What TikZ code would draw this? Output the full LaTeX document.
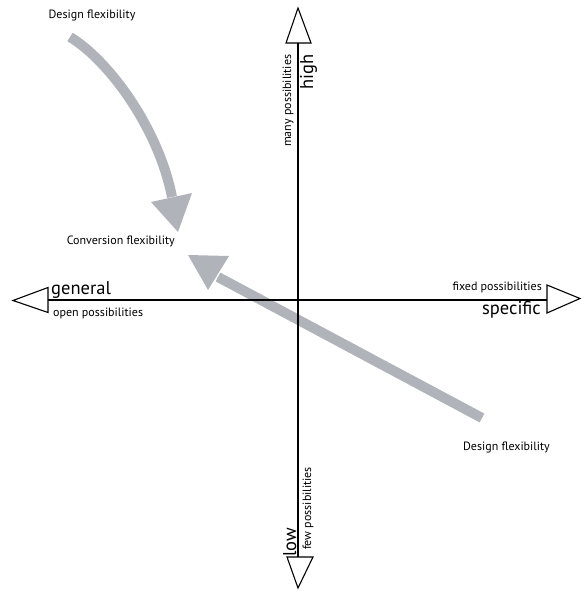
\documentclass[tikz,border=0pt]{standalone}
\usepackage{fontspec}
\setmainfont{PT Sans}
\usetikzlibrary{calc}
\definecolor{flowgray}{RGB}{176,180,186}
\begin{document}
\begin{tikzpicture}[x=1pt,y=-1pt,
  flow/.style={draw=flowgray, line width=10pt},
  flowhead/.style={fill=flowgray, draw=none},
  axis/.style={line width=1.8pt},
  axhead/.style={draw=black, fill=white, line width=1.1pt, line join=miter},
  small/.style={font=\fontsize{12}{14}\selectfont, inner sep=0pt},
  big/.style={font=\fontsize{18.5}{22}\selectfont, inner sep=0pt}]
\useasboundingbox (0,0) rectangle (583,591);

% axis end points
\coordinate (o) at (298,300);
\coordinate (w) at (48,300);
\coordinate (e) at (547,300);
\coordinate (n) at (298,43);
\coordinate (s) at (298,557);

% flow arrows (behind the axes)
\coordinate (d1) at (70,37);
\coordinate (h1) at (172,197);
\draw[flow] (d1) .. controls (108.6,60.2) and (158.6,128.3) .. (h1);
\fill[flowhead] (178,232) -- (151,202) -- (192,193) -- cycle;

\coordinate (d2) at (482,418);
\coordinate (h2) at (218,277);
\draw[flow] (d2) -- (h2);
\fill[flowhead] (208,290) -- (188,255) -- (229,256) -- cycle;

% axes
\draw[axis] (w) -- (e);
\draw[axis] (n) -- (s);

% open arrowheads at the axis ends
\draw[axhead] ($(w)+(0,-12.5)$) -- (13,300.5) -- ($(w)+(0,12.5)$) -- cycle;
\draw[axhead] ($(e)+(0,-15)$) -- (580,298.5) -- ($(e)+(0,13)$) -- cycle;
\draw[axhead] ($(n)+(-12,0)$) -- (298,8) -- ($(n)+(13,0)$) -- cycle;
\draw[axhead] ($(s)+(-11,0)$) -- (298,588) -- ($(s)+(15,0)$) -- cycle;

% axis labels
\node[big, anchor=base west] (general) at (51,294) {general};
\node[small, anchor=base west] (open) at (53,316) {open possibilities};
\node[small, anchor=base east] (fixed) at (542,290) {fixed possibilities};
\node[big, anchor=base east] (specific) at (541,314) {specific};
\node[big, rotate=90, anchor=base west] (high) at (313,90) {high};
\node[small, rotate=90, anchor=base west] (many) at (291,147) {many possibilities};
\node[big, rotate=90, anchor=base west] (low) at (296,557) {low};
\node[small, rotate=90, anchor=base west] (few) at (311,550) {few possibilities};

% flow labels
\node[small, anchor=base] (design1) at (92,18.5) {Design flexibility};
\node[small, anchor=base east] (conv) at (175,244) {Conversion flexibility};
\node[small, anchor=base east] (design2) at (550,450) {Design flexibility};
\end{tikzpicture}
\end{document}
